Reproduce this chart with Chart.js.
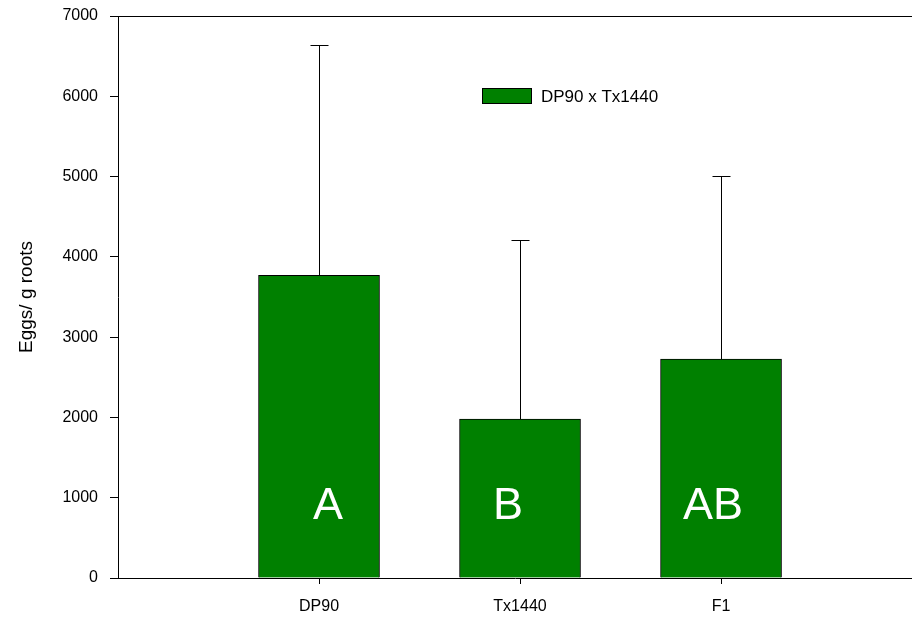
<!DOCTYPE html>
<html>
<head>
<meta charset="utf-8">
<script src="https://cdn.jsdelivr.net/npm/chart.js@4/dist/chart.umd.min.js"></script>
<style>
html,body{margin:0;padding:0;background:#fff;}
#wrap{width:912px;height:623px;}
</style>
</head>
<body>
<div id="wrap"><canvas id="c" width="912" height="623"></canvas></div>
<script>
const categories = ['DP90', 'Tx1440', 'F1'];
const positions = [1, 2, 3];
const means = [3770, 1980, 2727];
const errorTops = [6640, 4210, 5005];
const letters = ['A', 'B', 'AB'];
const letterX = [1.045, 1.94, 2.96];
const letterY = 740;
const seriesLabel = 'DP90 x Tx1440';
const yTicks = [0, 1000, 2000, 3000, 4000, 5000, 6000, 7000];

const FONT = 'Liberation Sans, Arial, sans-serif';

const extras = {
  id: 'extras',
  afterDatasetsDraw(chart) {
    const ctx = chart.ctx, xs = chart.scales.x, ys = chart.scales.y, ca = chart.chartArea;
    ctx.save();
    ctx.strokeStyle = '#000'; ctx.lineWidth = 1;
    ctx.beginPath(); ctx.moveTo(ca.left, Math.round(ca.top) + 0.5); ctx.lineTo(chart.width, Math.round(ca.top) + 0.5); ctx.stroke();
    positions.forEach((p, i) => {
      const x = Math.round(xs.getPixelForValue(p)) + 0.5;
      const y0 = ys.getPixelForValue(means[i]);
      const y1 = Math.round(ys.getPixelForValue(errorTops[i])) + 0.5;
      ctx.beginPath(); ctx.moveTo(x, y0); ctx.lineTo(x, y1);
      ctx.moveTo(x - 9, y1); ctx.lineTo(x + 9, y1); ctx.stroke();
    });
    ctx.fillStyle = '#fff';
    ctx.font = '45px ' + FONT;
    ctx.textAlign = 'center'; ctx.textBaseline = 'alphabetic';
    letters.forEach((t, i) => {
      ctx.fillText(t, xs.getPixelForValue(letterX[i]), ys.getPixelForValue(letterY));
    });
    const ds = chart.data.datasets[0];
    ctx.fillStyle = ds.backgroundColor;
    ctx.fillRect(482, 88, 50, 16);
    ctx.strokeStyle = '#000';
    ctx.strokeRect(482.5, 88.5, 49, 15);
    ctx.fillStyle = '#000';
    ctx.font = '17px ' + FONT;
    ctx.textAlign = 'left'; ctx.textBaseline = 'middle';
    ctx.fillText(ds.label, 541, 97);
    ctx.restore();
  }
};

new Chart(document.getElementById('c'), {
  type: 'bar',
  data: {
    datasets: [{
      label: seriesLabel,
      data: positions.map((p, i) => ({ x: p, y: means[i] })),
      backgroundColor: 'rgb(0,128,0)',
      borderColor: '#000',
      borderWidth: 1,
      barThickness: 121
    }]
  },
  options: {
    responsive: false,
    animation: false,
    layout: { padding: { top: 16, right: 0, left: 0, bottom: 0 } },
    plugins: { legend: { display: false }, tooltip: { enabled: false } },
    scales: {
      x: {
        type: 'linear',
        offset: false,
        min: 0, max: 3.95,
        afterBuildTicks: s => { s.ticks = positions.map(v => ({ value: v })); },
        afterFit: s => { s.height = 45; },
        grid: { display: true, offset: false, drawOnChartArea: false, drawTicks: true, tickLength: 6, color: '#000' },
        border: { display: true, color: '#000', width: 1 },
        ticks: {
          color: '#000', font: { family: FONT, size: 16 }, padding: 13, maxRotation: 0,
          callback: v => { const i = positions.indexOf(v); return i >= 0 ? categories[i] : ''; }
        }
      },
      y: {
        min: 0, max: 7000,
        afterBuildTicks: s => { s.ticks = yTicks.map(v => ({ value: v })); },
        afterFit: s => { s.width = 118; s.paddingTop = 0; s.paddingBottom = 0; },
        grid: { display: true, drawOnChartArea: false, drawTicks: true, tickLength: 8, color: '#000' },
        border: { display: true, color: '#000', width: 1 },
        ticks: { color: '#000', font: { family: FONT, size: 16 }, padding: 12, callback: v => String(v) },
        title: { display: true, text: 'Eggs/ g roots', color: '#000', font: { family: FONT, size: 19 }, padding: { top: 15, bottom: 0 } }
      }
    }
  },
  plugins: [extras]
});
</script>
</body>
</html>
